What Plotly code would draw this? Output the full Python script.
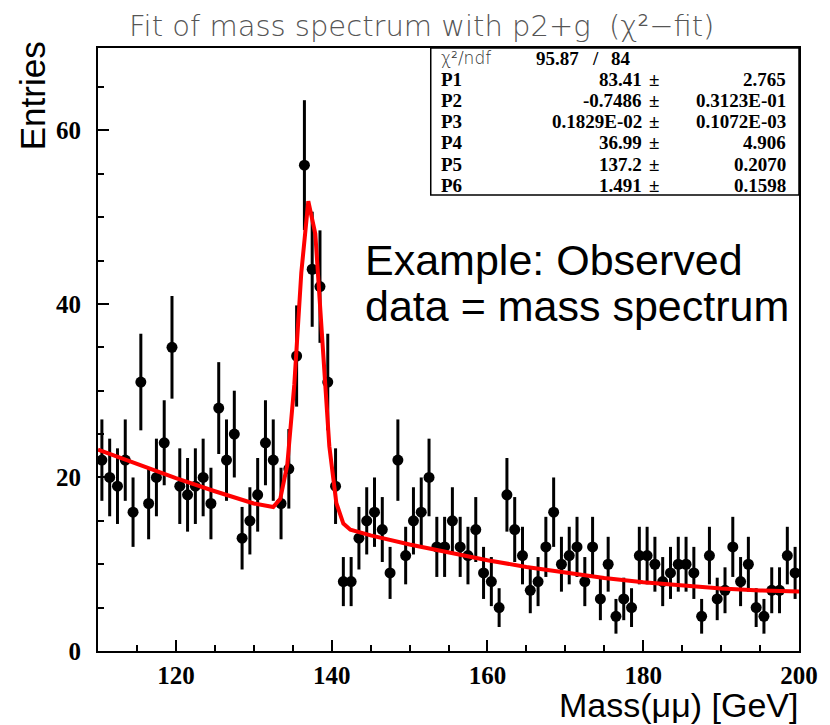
import numpy as np
import plotly.graph_objects as go

# ---- data ----
bin_centers = [110.5 + i for i in range(90)]
entries = [22, 20, 19, 22, 16, 31, 17, 20, 24, 35,
           19, 18, 19, 20, 17, 28, 22, 25, 13, 15,
           18, 24, 22, 17, 21, 34, 56, 44, 42, 31,
           19, 8, 8, 13, 15, 16, 14, 9, 22, 11,
           15, 16, 20, 12, 12, 15, 12, 11, 14, 9,
           8, 5, 18, 14, 11, 7, 8, 12, 16, 10,
           11, 12, 8, 12, 6, 10, 4, 6, 5, 11,
           11, 10, 8, 9, 10, 10, 9, 4, 11, 6,
           7, 12, 8, 10, 5, 4, 7, 7, 11, 9]

fit_x = [110, 115, 120, 125, 130, 132.5, 133.4, 134.3, 135.2, 136.1, 137.0,
         137.9, 138.8, 139.7, 140.6, 141.5, 142.4, 145, 150, 155, 160, 165,
         170, 175, 180, 185, 190, 195, 200]
fit_y = [23.20, 21.51, 19.92, 18.41, 17.00, 16.59, 17.53, 21.44, 30.67, 43.58,
         51.84, 48.09, 35.54, 23.60, 17.06, 14.68, 13.98, 13.32, 12.27, 11.32,
         10.46, 9.69, 9.01, 8.42, 7.92, 7.52, 7.20, 6.98, 6.85]

x_ticks = [120, 140, 160, 180, 200]
y_ticks = [0, 20, 40, 60]

stat_names = ["P1", "P2", "P3", "P4", "P5", "P6"]
stat_values = ["83.41", "-0.7486", "0.1829E-02", "36.99", "137.2", "1.491"]
stat_errors = ["2.765", "0.3123E-01", "0.1072E-03", "4.906", "0.2070", "0.1598"]
chi2_value = "95.87"
ndf_value = "84"

# ---- geometry (page pixels; the page body adds an 8px margin) ----
OFF = 8
PW, PH = 830, 725
W, H = PW - OFF, PH - OFF
L, R, T, B = 97.7, 808.3, 48.0, 650.7   # plot frame in page pixels


def xp(px):
    return (px - L) / (R - L)


def yp(py):
    return (B - py) / (B - T)


fig = go.Figure()

fig.add_trace(go.Scatter(
    x=bin_centers, y=entries, mode="markers",
    marker=dict(color="black", size=11, symbol="circle"),
    error_y=dict(type="data", array=list(np.sqrt(entries)), visible=True,
                 color="black", thickness=3, width=0),
    showlegend=False, hoverinfo="x+y"))

fig.add_trace(go.Scatter(
    x=fit_x, y=fit_y, mode="lines",
    line=dict(color="#ff0000", width=4),
    showlegend=False))

tickfont = dict(family="Liberation Serif", size=25, color="black", weight="bold")

fig.update_xaxes(range=[110, 200], tickvals=x_ticks, ticks="inside", ticklen=11,
                 tickwidth=2, tickcolor="black", showline=True, linecolor="black",
                 linewidth=2, mirror=True, showgrid=False, zeroline=False,
                 tickfont=tickfont, ticklabelstandoff=1,
                 minor=dict(dtick=5, ticks="inside", ticklen=6, tickwidth=2,
                            tickcolor="black", showgrid=False))
fig.update_yaxes(range=[0, 69.5], tickvals=y_ticks, ticks="inside", ticklen=11,
                 tickwidth=2, tickcolor="black", showline=True, linecolor="black",
                 linewidth=2, mirror=True, showgrid=False, zeroline=False,
                 tickfont=tickfont, ticklabelstandoff=10,
                 minor=dict(dtick=5, ticks="inside", ticklen=6, tickwidth=2,
                            tickcolor="black", showgrid=False))

ann = []
# title
ann.append(dict(x=xp(426), y=yp(OFF), xref="paper", yref="paper", showarrow=False,
                text="Fit of mass spectrum with p2+g  (χ²−fit)",
                xanchor="center", yanchor="top", borderpad=0,
                font=dict(family="DejaVu Sans", size=29, color="#555555",
                          weight=300)))
# axis titles
ann.append(dict(x=xp(31), y=yp(96), xref="paper", yref="paper", showarrow=False,
                text="Entries", textangle=-90, xanchor="center", yanchor="middle",
                font=dict(family="Liberation Sans", size=35, color="black")))
ann.append(dict(x=xp(808), y=yp(PH), xref="paper", yref="paper", showarrow=False,
                text="Mass(μμ) [GeV]", xanchor="right", yanchor="bottom",
                borderpad=0,
                font=dict(family="Liberation Sans", size=34, color="black")))
# example text
ann.append(dict(x=xp(366), y=yp(260), xref="paper", yref="paper", showarrow=False,
                text="Example: Observed", xanchor="left", yanchor="middle",
                font=dict(family="Liberation Sans", size=43, color="black")))
ann.append(dict(x=xp(366), y=yp(306), xref="paper", yref="paper", showarrow=False,
                text="data = mass spectrum", xanchor="left", yanchor="middle",
                font=dict(family="Liberation Sans", size=43, color="black")))

# stats box
sfont = dict(family="Liberation Serif", size=19, color="black", weight="bold")
row0, dy = 58, 21.2
ann.append(dict(x=xp(443), y=yp(row0), xref="paper", yref="paper", showarrow=False,
                text="χ²/ndf", xanchor="left", yanchor="middle",
                font=dict(family="DejaVu Sans", size=17, color="#333333",
                          weight=300)))
ann.append(dict(x=xp(587), y=yp(row0), xref="paper", yref="paper", showarrow=False,
                text=chi2_value, xanchor="right", yanchor="middle", font=sfont))
ann.append(dict(x=xp(602), y=yp(row0), xref="paper", yref="paper", showarrow=False,
                text="/", xanchor="center", yanchor="middle", font=sfont))
ann.append(dict(x=xp(616), y=yp(row0), xref="paper", yref="paper", showarrow=False,
                text=ndf_value, xanchor="left", yanchor="middle", font=sfont))
for k, (n, v, e) in enumerate(zip(stat_names, stat_values, stat_errors)):
    yy = yp(row0 + dy * (k + 1))
    ann.append(dict(x=xp(443), y=yy, xref="paper", yref="paper", showarrow=False,
                    text=n, xanchor="left", yanchor="middle", font=sfont))
    ann.append(dict(x=xp(651), y=yy, xref="paper", yref="paper", showarrow=False,
                    text=v, xanchor="right", yanchor="middle", font=sfont))
    ann.append(dict(x=xp(661), y=yy, xref="paper", yref="paper", showarrow=False,
                    text="±", xanchor="center", yanchor="middle", font=sfont))
    ann.append(dict(x=xp(797), y=yy, xref="paper", yref="paper", showarrow=False,
                    text=e, xanchor="right", yanchor="middle", font=sfont))

shapes = [dict(type="rect", xref="paper", yref="paper", x0=xp(435), x1=1.0,
               y0=yp(195), y1=1.0, line=dict(color="black", width=1.5),
               fillcolor="white", layer="above")]

fig.update_layout(width=W, height=H, autosize=False,
                  margin=dict(l=L - OFF, r=PW - R, t=T - OFF, b=PH - B, pad=0),
                  paper_bgcolor="white", plot_bgcolor="white",
                  annotations=ann, shapes=shapes, showlegend=False)

fig.write_html("out.html")
